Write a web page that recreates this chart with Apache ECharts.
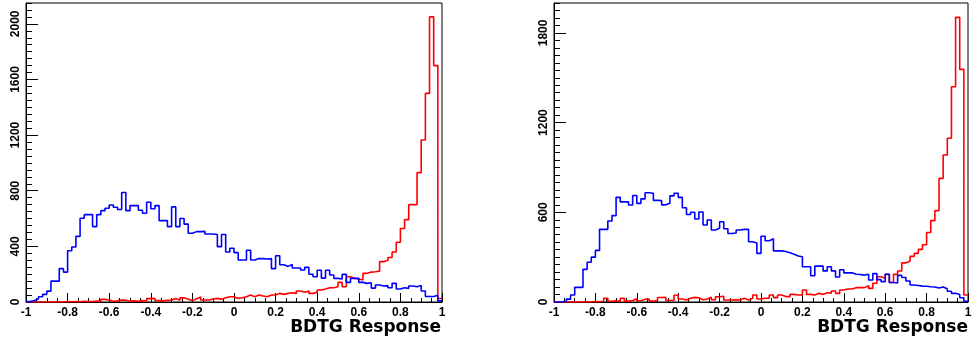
<!DOCTYPE html>
<html>
<head>
<meta charset="utf-8">
<script src="https://cdn.jsdelivr.net/npm/echarts@6/dist/echarts.min.js"></script>
<style>
  html, body { margin: 0; padding: 0; background: #fff; }
  #chart { width: 976px; height: 343px; }
</style>
</head>
<body>
<div id="chart"></div>
<script>
// BDTG response histograms: 100 bins of width 0.02 on [-1, 1]
const nBins = 100;
const binLow = Array.from({ length: nBins }, (_, i) => +(-1 + 0.02 * i).toFixed(2));
const xTickLabels = ['-1', '-0.8', '-0.6', '-0.4', '-0.2', '0', '0.2', '0.4', '0.6', '0.8', '1'];

// Left panel
const leftBlue = [
  3, 10, 22, 38, 55, 78, 150, 150, 240, 215,
  369, 395, 472, 602, 628, 628, 542, 628, 657, 674,
  698, 681, 665, 787, 657, 693, 693, 660, 638, 717,
  670, 693, 585, 585, 542, 684, 542, 600, 560, 494,
  506, 506, 508, 489, 489, 485, 398, 485, 360, 386,
  355, 302, 302, 372, 302, 312, 312, 309, 312, 240,
  333, 268, 256, 270, 245, 245, 230, 249, 200, 182,
  228, 172, 228, 194, 170, 165, 199, 141, 170, 170,
  141, 134, 139, 100, 122, 115, 118, 103, 134, 94,
  103, 98, 115, 110, 118, 79, 40, 40, 48, 8
];
const leftRed = [
  0, 0, 0, 0, 0, 0, 2, 0, 0, 3,
  2, 3, 2, 5, 3, 4, 6, 4, 19, 14,
  5, 8, 15, 12, 6, 8, 5, 10, 7, 24,
  26, 10, 8, 12, 14, 26, 12, 30, 20, 10,
  24, 36, 14, 14, 22, 26, 19, 31, 38, 38,
  26, 31, 38, 50, 38, 50, 43, 38, 50, 50,
  62, 55, 62, 67, 62, 79, 70, 79, 62, 70,
  86, 94, 103, 103, 110, 141, 110, 182, 170, 165,
  158, 206, 215, 218, 222, 290, 300, 320, 360, 430,
  528, 592, 700, 700, 930, 1165, 1500, 2050, 1700, 25
];

// Right panel
const rightBlue = [
  0, 2, 5, 19, 47, 98, 98, 218, 266, 300,
  345, 486, 486, 542, 578, 700, 670, 670, 649, 712,
  660, 690, 731, 727, 680, 678, 650, 660, 710, 727,
  700, 630, 585, 600, 555, 602, 515, 548, 482, 493,
  537, 490, 458, 462, 482, 486, 486, 403, 395, 325,
  440, 410, 423, 342, 342, 338, 330, 320, 308, 303,
  236, 236, 176, 240, 240, 208, 236, 208, 167, 216,
  195, 195, 186, 184, 180, 186, 147, 190, 150, 136,
  186, 130, 127, 178, 164, 140, 114, 110, 106, 105,
  102, 100, 94, 100, 89, 72, 58, 50, 28, 5
];
const rightRed = [
  0, 0, 0, 0, 0, 0, 0, 2, 0, 3,
  2, 5, 25, 5, 8, 4, 24, 6, 10, 22,
  8, 18, 20, 6, 10, 30, 32, 10, 12, 45,
  20, 14, 25, 31, 28, 15, 20, 31, 15, 35,
  38, 13, 13, 15, 13, 25, 13, 25, 47, 20,
  25, 25, 47, 29, 47, 36, 36, 51, 47, 47,
  80, 51, 47, 58, 51, 62, 58, 74, 58, 80,
  87, 87, 96, 96, 96, 109, 91, 125, 169, 158,
  185, 130, 185, 207, 262, 272, 305, 325, 352, 383,
  465, 544, 611, 827, 983, 1095, 1440, 1904, 1556, 47
];

const leftYMax = 2150, leftYStep = 400;
const rightYMax = 2000, rightYStep = 600;
const yMinorStep = 50;
const axisTitle = 'BDTG Response';

// histogram outline: one point per bin low edge, closed at the upper edge
function steps(values) {
  const pts = values.map((v, i) => [binLow[i], v]);
  pts.push([1, values[values.length - 1]]);
  return pts;
}

const labelFont = { fontFamily: '"Liberation Sans", Arial, sans-serif', fontWeight: 'bold', fontSize: 12, color: '#000' };

function xAxisFor(gridIndex) {
  return {
    type: 'value', gridIndex, min: -1, max: 1, interval: 0.2,
    axisLine: { show: true, onZero: false, lineStyle: { color: '#000', width: 1 } },
    axisTick: { show: true, inside: true, length: 9, lineStyle: { color: '#000', width: 1 } },
    minorTick: { show: true, splitNumber: 4, length: 4, lineStyle: { color: '#000', width: 1 } },
    splitLine: { show: false },
    axisLabel: Object.assign({
      margin: 5,
      formatter: v => {
        const s = String(+v.toFixed(1));
        return xTickLabels.indexOf(s) >= 0 ? s : '';
      }
    }, labelFont)
  };
}

function yAxesFor(gridIndex, max, step) {
  return [
    {
      type: 'value', gridIndex, position: 'left', min: 0, max, interval: step,
      axisLine: { show: true, onZero: false, lineStyle: { color: '#000', width: 1 } },
      axisTick: { show: true, inside: true, length: 12, lineStyle: { color: '#000', width: 1 } },
      splitLine: { show: false },
      axisLabel: Object.assign({ rotate: 90, margin: 4, showMaxLabel: false,
        formatter: v => (v % step === 0 ? String(v) : '') }, labelFont)
    },
    {
      type: 'value', gridIndex, position: 'left', offset: 0, min: 0, max, interval: yMinorStep,
      axisLine: { show: false, onZero: false },
      axisTick: { show: true, inside: true, length: 6, lineStyle: { color: '#000', width: 1 } },
      splitLine: { show: false },
      axisLabel: { show: false }
    }
  ];
}

function histSeries(values, color, xi, yi, z) {
  return {
    type: 'line', xAxisIndex: xi, yAxisIndex: yi, step: 'end',
    data: steps(values), showSymbol: false, symbol: 'none', z,
    lineStyle: { color, width: 1.6 }, itemStyle: { color },
    silent: true
  };
}

const chart = echarts.init(document.getElementById('chart'), null, { renderer: 'canvas' });
chart.setOption({
  animation: false,
  backgroundColor: '#fff',
  grid: [
    { left: 26, top: 3, width: 416, height: 299, show: true, borderColor: '#000', borderWidth: 1, backgroundColor: 'transparent', containLabel: false, outerBoundsMode: 'none' },
    { left: 554, top: 3, width: 414, height: 299, show: true, borderColor: '#000', borderWidth: 1, backgroundColor: 'transparent', containLabel: false, outerBoundsMode: 'none' }
  ],
  xAxis: [xAxisFor(0), xAxisFor(1)],
  yAxis: [...yAxesFor(0, leftYMax, leftYStep), ...yAxesFor(1, rightYMax, rightYStep)],
  series: [
    histSeries(leftRed, '#ff0000', 0, 0, 2),
    histSeries(leftBlue, '#0000ff', 0, 0, 3),
    histSeries(rightRed, '#ff0000', 1, 2, 2),
    histSeries(rightBlue, '#0000ff', 1, 2, 3)
  ],
  graphic: [
    { type: 'text', right: 535, top: 319,
      style: { text: axisTitle, fontFamily: '"DejaVu Sans", sans-serif', fontWeight: 'bold', fontSize: 17, fill: '#000' } },
    { type: 'text', right: 8, top: 319,
      style: { text: axisTitle, fontFamily: '"DejaVu Sans", sans-serif', fontWeight: 'bold', fontSize: 17, fill: '#000' } }
  ]
});
</script>
</body>
</html>
